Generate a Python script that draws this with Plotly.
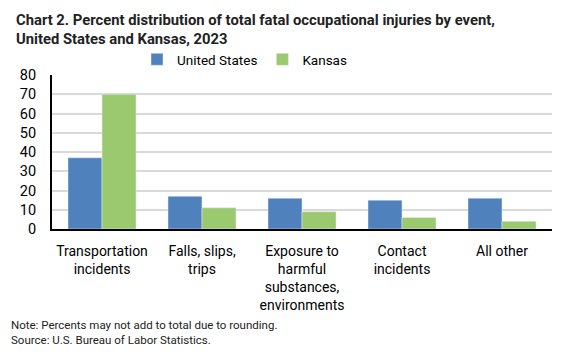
import plotly.graph_objects as go

categories = ["Transportation<br>incidents", "Falls, slips,<br>trips", "Exposure to<br>harmful<br>substances,<br>environments", "Contact<br>incidents", "All other"]
us_values = [37, 17, 16, 15, 16]
ks_values = [70, 11, 9, 6, 4]
y_ticks = [0, 10, 20, 30, 40, 50, 60, 70, 80]

FONT = "Roboto"
fig = go.Figure()
fig.add_trace(go.Bar(x=categories, y=us_values, name="United States", marker_color="#4f81bd"))
fig.add_trace(go.Bar(x=categories, y=ks_values, name="Kansas", marker_color="#9bc96f"))

fig.update_layout(
    width=558, height=355,
    margin=dict(l=44, r=14, t=67, b=134, autoexpand=False),
    plot_bgcolor="white", paper_bgcolor="white",
    barmode="group", bargap=0.32, bargroupgap=0,
    font=dict(family=FONT, size=13, color="black"),
    legend=dict(orientation="h", x=0.385, xanchor="center", y=1.0, yanchor="bottom",
                font=dict(size=13.5), traceorder="normal", itemwidth=30, tracegroupgap=0),
    showlegend=True,
)
fig.update_yaxes(range=[0, 80], tickvals=y_ticks, showgrid=True, gridcolor="#d9d9d9", gridwidth=1.5,
                 showline=True, linecolor="black", linewidth=2, ticks="", zeroline=False,
                 tickfont=dict(size=14.5), ticklabelstandoff=11)
fig.update_xaxes(showline=True, linecolor="black", linewidth=2, ticks="", tickfont=dict(size=14),
                 ticklabelstandoff=8)

fig.add_annotation(text="<b>Chart 2. Percent distribution of total fatal occupational injuries by event,<br>United States and Kansas, 2023</b>",
                   xref="paper", yref="paper", x=-38/500, xanchor="left", y=1 + 66/154, yanchor="top",
                   showarrow=False, align="left", font=dict(family=FONT, size=14.8, color="#222"))
fig.add_annotation(text="Note: Percents may not add to total due to rounding.<br>Source: U.S. Bureau of Labor Statistics.",
                   xref="paper", yref="paper", x=-43/500, xanchor="left", y=-(316 - 229) / 154, yanchor="top",
                   showarrow=False, align="left", font=dict(family=FONT, size=11.5, color="#222"))

fig.write_html("out.html")
